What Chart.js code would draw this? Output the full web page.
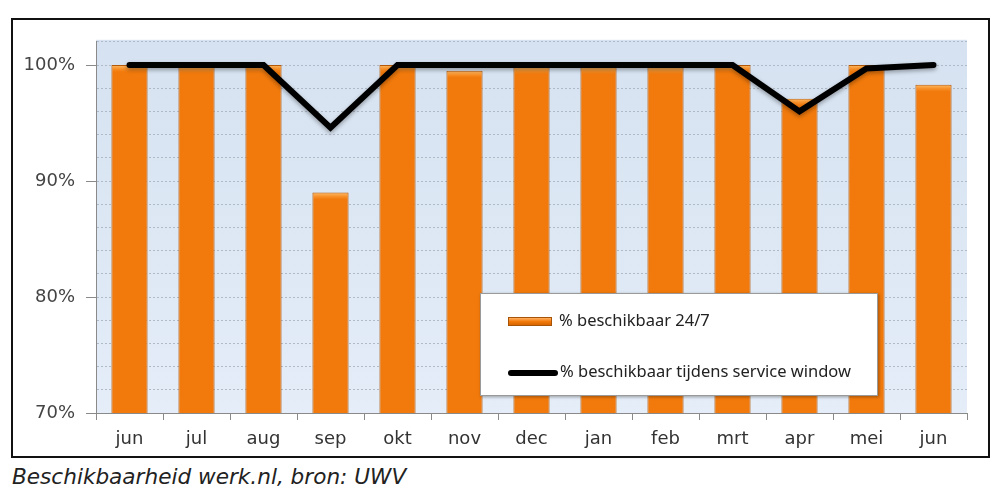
<!DOCTYPE html>
<html>
<head>
<meta charset="utf-8">
<script src="https://cdn.jsdelivr.net/npm/chart.js@4"></script>
<style>
    body { margin: 0; background: #fff; width: 1000px; height: 499px; overflow: hidden; position: relative; }
    #frame { position: absolute; left: 11px; top: 18px; width: 979px; height: 440px; border: 2px solid #111; box-sizing: border-box; }
    #chart { display: block; }
    #legend { position: absolute; left: 480px; top: 293px; width: 398px; height: 103px; background: #fff; border: 1px solid #9a9a9a; box-sizing: border-box; box-shadow: 1px 1px 3px rgba(0,0,0,0.35); font-family: "Noto Sans", sans-serif; font-size: 16.5px; color: #222; }
    .item { position: absolute; left: 27px; height: 20px; line-height: 20px; white-space: nowrap; }
    .sw-bar { display: inline-block; width: 44px; height: 9px; vertical-align: middle; background: linear-gradient(#ffb060, #f27a0c 50%, #d86500); border: 1px solid #a85408; box-sizing: border-box; margin-right: 7px; }
    .sw-line { display: inline-block; width: 50px; height: 6px; vertical-align: middle; background: #000; border-radius: 3px; margin-right: 2px; }
    #caption { position: absolute; left: 12px; top: 464px; font-family: "DejaVu Sans", sans-serif; font-style: italic; font-size: 21.6px; color: #222; }
</style>
</head>
<body>
<div id="frame"><canvas id="chart" width="975" height="436"></canvas></div>
<div id="legend">
    <div class="item" style="top: 16px;"><span class="sw-bar"></span>% beschikbaar 24/7</div>
    <div class="item" style="top: 67px;"><span class="sw-line"></span>% beschikbaar tijdens service window</div>
</div>
<div id="caption">Beschikbaarheid werk.nl, bron: UWV</div>
<script>
const months = ['jun', 'jul', 'aug', 'sep', 'okt', 'nov', 'dec', 'jan', 'feb', 'mrt', 'apr', 'mei', 'jun'];
const available247 = [100, 99.9, 100, 89.0, 100, 99.5, 99.8, 99.8, 99.8, 100, 97.1, 100, 98.3];
const availableWindow = [100, 100, 100, 94.6, 100, 100, 100, 100, 100, 100, 96.0, 99.7, 100];
const yTicks = [70, 80, 90, 100];

// light blue plot area, light caps on the bars and a soft shadow under the line
const plotBackground = {
    id: 'plotBackground',
    beforeDraw(chart) {
        const { ctx, chartArea: a } = chart;
        const g = ctx.createLinearGradient(0, a.top, 0, a.bottom);
        g.addColorStop(0, '#d6e2f1');
        g.addColorStop(1, '#e4edf8');
        ctx.save();
        ctx.fillStyle = g;
        ctx.fillRect(a.left, a.top - 2, a.right - a.left, a.bottom - a.top + 2);
        ctx.restore();
    },
    beforeDatasetDraw(chart, args) {
        if (args.index === 1) {
            chart.ctx.save();
            chart.ctx.shadowColor = 'rgba(0,0,0,0.35)';
            chart.ctx.shadowBlur = 4;
            chart.ctx.shadowOffsetY = 2;
        }
    },
    afterDatasetDraw(chart, args) {
        if (args.index === 1) chart.ctx.restore();
        if (args.index === 0) {
            const ctx = chart.ctx;
            ctx.save();
            chart.getDatasetMeta(0).data.forEach(bar => {
                const half = bar.width / 2 - 1;
                const g = ctx.createLinearGradient(0, bar.y, 0, bar.y + 7);
                g.addColorStop(0, 'rgba(255,200,120,0.9)');
                g.addColorStop(1, 'rgba(255,160,60,0)');
                ctx.fillStyle = g;
                ctx.fillRect(bar.x - half, bar.y + 1, half * 2, 6);
            });
            ctx.restore();
        }
    }
};

function barFill(context) {
    const chart = context.chart;
    const el = chart.getDatasetMeta(0).data[context.dataIndex];
    if (!el || !isFinite(el.x) || !isFinite(el.width)) return '#f27a0c';
    const half = el.width / 2;
    const g = chart.ctx.createLinearGradient(el.x - half, 0, el.x + half, 0);
    g.addColorStop(0, '#e06a02');
    g.addColorStop(0.45, '#f7800f');
    g.addColorStop(1, '#e56d04');
    return g;
}

new Chart(document.getElementById('chart'), {
    type: 'bar',
    data: {
        labels: months,
        datasets: [{
            type: 'bar',
            label: '% beschikbaar 24/7',
            data: available247,
            backgroundColor: barFill,
            borderColor: '#b35a0a',
            borderWidth: 1,
            categoryPercentage: 1,
            barPercentage: 0.54,
            order: 2
        }, {
            type: 'line',
            label: '% beschikbaar tijdens service window',
            data: availableWindow,
            borderColor: '#000',
            borderWidth: 6,
            pointRadius: 0,
            tension: 0,
            borderCapStyle: 'round',
            borderJoinStyle: 'miter',
            order: 1
        }]
    },
    options: {
        responsive: false,
        animation: false,
        layout: { padding: { top: 20, right: 21, bottom: 0, left: 0 } },
        plugins: { legend: { display: false }, tooltip: { enabled: false } },
        scales: {
            x: {
                afterFit(scale) { scale.height = 43; },
                grid: { offset: true, drawOnChartArea: false, tickLength: 7, color: '#8a8a8a' },
                border: { color: '#8a8a8a', width: 1 },
                ticks: { color: '#333', padding: 9, font: { family: 'DejaVu Sans', size: 18 } }
            },
            y: {
                min: 70,
                max: 102,
                afterFit(scale) { scale.width = 83; },
                afterBuildTicks(scale) {
                    const t = [];
                    for (let v = 70; v <= 102; v += 2) t.push({ value: v });
                    scale.ticks = t;
                },
                grid: {
                    color: '#b0b9c6',
                    tickLength: 10,
                    tickColor: c => yTicks.includes(c.tick && c.tick.value) ? '#8a8a8a' : 'transparent'
                },
                border: { color: '#8a8a8a', width: 1, dash: [2, 2] },
                ticks: {
                    autoSkip: false,
                    color: '#444',
                    padding: 11,
                    font: { family: 'DejaVu Sans', size: 18 },
                    callback: v => yTicks.includes(v) ? v + '%' : ''
                }
            }
        }
    },
    plugins: [plotBackground]
});
</script>
</body>
</html>
